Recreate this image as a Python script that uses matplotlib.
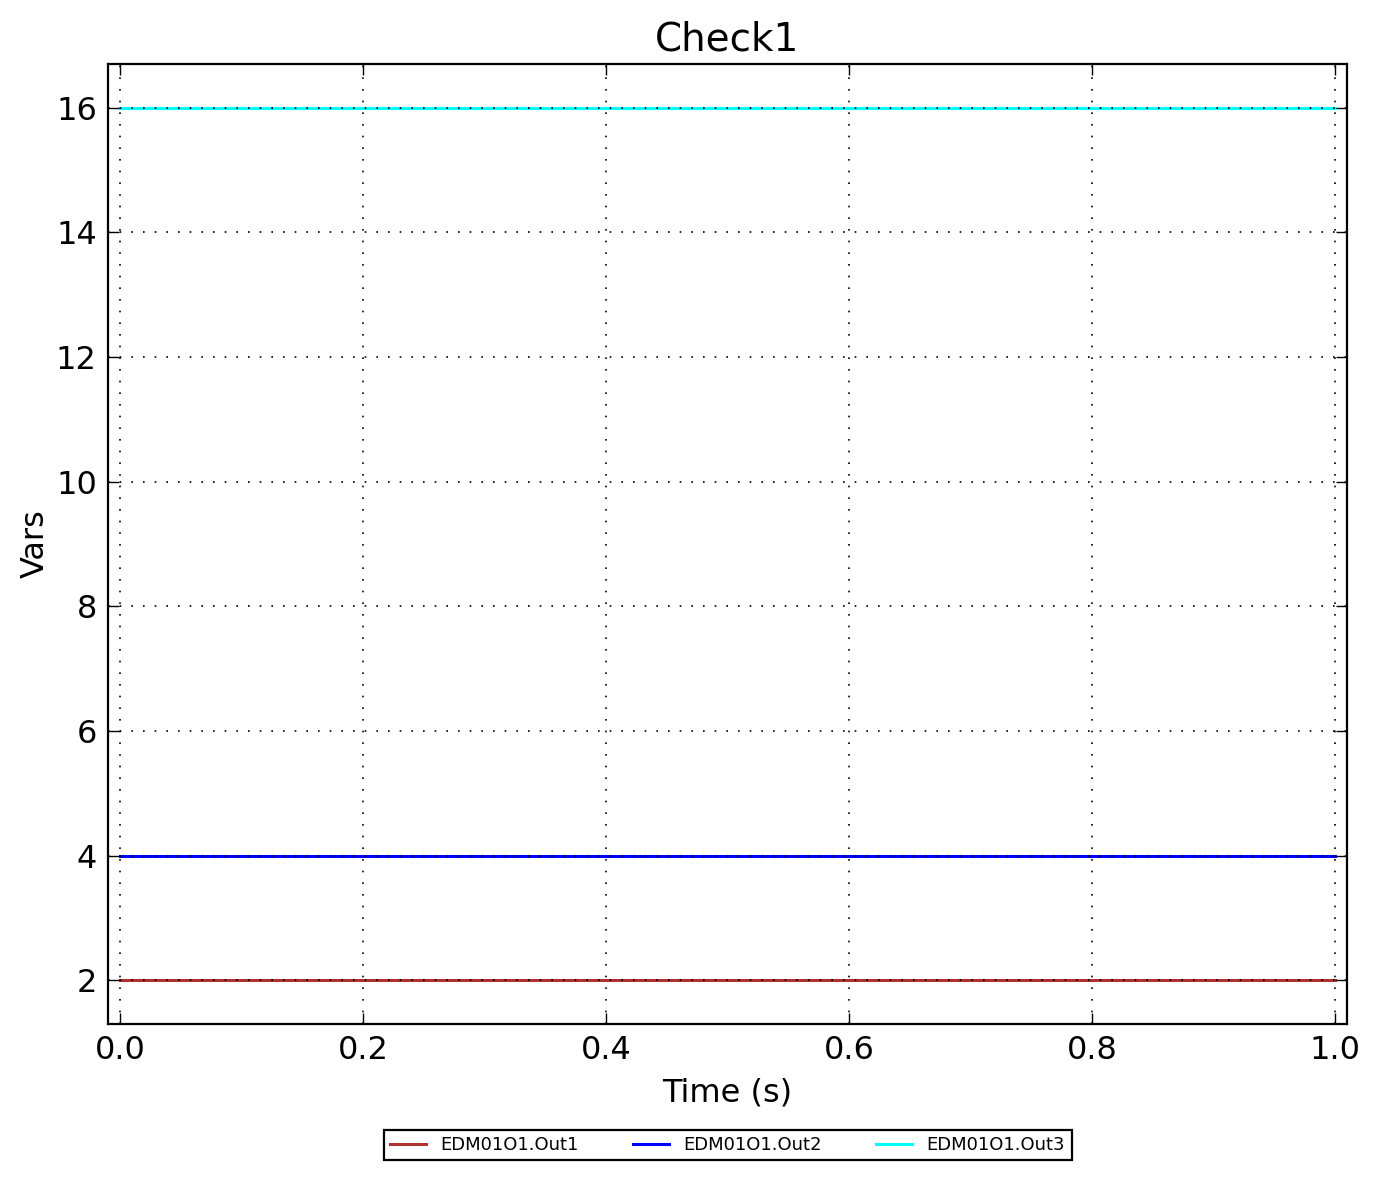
import matplotlib
matplotlib.use('Agg')
import matplotlib.pyplot as plt
import numpy as np

# Signal data (constant outputs over the run)
time_s = [0.0, 1.0]
out1 = [2.0, 2.0]
out2 = [4.0, 4.0]
out3 = [16.0, 16.0]
labels = ['EDM01O1.Out1', 'EDM01O1.Out2', 'EDM01O1.Out3']
colors = ['#b03030', '#0000ff', '#00ffff']

plt.rcParams.update({
    'font.family': 'DejaVu Sans',
    'xtick.direction': 'in',
    'ytick.direction': 'in',
    'xtick.top': True,
    'ytick.right': True,
    'axes.linewidth': 1.6,
    'axes.axisbelow': False,
})

fig = plt.figure(figsize=(13.78, 11.8), dpi=100)
ax = fig.add_axes([0.0784, 0.1322, 0.8991, 0.8136])

for y, lab, c in zip([out1, out2, out3], labels, colors):
    ax.plot(time_s, y, color=c, linewidth=2.2, label=lab)

ax.set_xlim(-0.01, 1.01)
ax.set_ylim(1.3, 16.7)
ax.set_xticks(np.arange(0, 1.01, 0.2))
ax.set_yticks(np.arange(2, 17, 2))
ax.tick_params(axis='both', which='major', labelsize=23, length=8, width=1.0, pad=8)
ax.grid(True, linestyle=(0, (1, 6)), color='black', linewidth=1.2)

ax.set_title('Check1', fontsize=28, pad=10)
ax.set_xlabel('Time (s)', fontsize=23, labelpad=8)
ax.set_ylabel('Vars', fontsize=23)

leg = ax.legend(loc='center', bbox_to_anchor=(0.5, -0.126), ncol=3, fontsize=13,
                fancybox=False, framealpha=1.0, edgecolor='black',
                handlelength=2.0, columnspacing=3.0, borderpad=0.35)
leg.get_frame().set_linewidth(1.6)

fig.savefig('out.png', dpi=100, facecolor='white')
